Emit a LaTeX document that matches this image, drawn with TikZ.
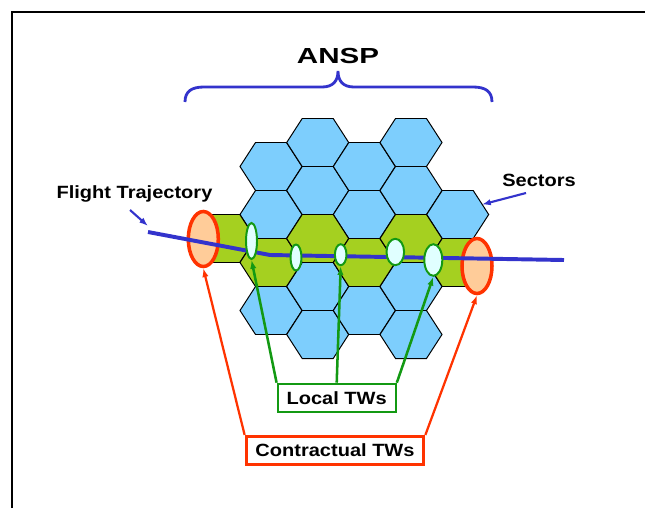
\documentclass[tikz,border=0pt]{standalone}
\usepackage{fontspec}
\setmainfont{Liberation Sans}
\usetikzlibrary{arrows.meta,positioning,shapes.geometric}
\definecolor{cellblue}{HTML}{7DCEFD}
\definecolor{cellgreen}{HTML}{A5D020}
\definecolor{trackblue}{HTML}{3333CC}
\definecolor{twgreen}{HTML}{139913}
\definecolor{twfill}{HTML}{E0FFFF}
\definecolor{capred}{HTML}{FF3300}
\definecolor{capfill}{HTML}{FFCC99}
% one sector cell: centre x, centre y, fill
\newcommand{\hexcell}[3]{\draw[black,line width=.7pt,fill=#3,shift={(#1,#2)}] (-31,0) -- (-15.5,-24) -- (15.5,-24) -- (31,0) -- (15.5,24) -- (-15.5,24) -- cycle;}

\begin{document}
\begin{tikzpicture}[x=0.025cm,y=-0.025cm,>={Latex[length=2.2mm,width=1.6mm]},
  lbl/.style={font=\bfseries\fontsize{12.6}{14}\selectfont,xscale=1.13,inner sep=0pt},
  twmark/.style={ellipse,draw=twgreen,line width=1.4pt,fill=twfill,inner sep=0pt},
  capmark/.style={ellipse,draw=capred,line width=2.5pt,fill=capfill,inner sep=0pt,minimum width=7.5mm,minimum height=13.75mm},
  twlink/.style={->,twgreen,line width=1.8pt},
  caplink/.style={->,capred,line width=1.6pt}]
\useasboundingbox (0,0) rectangle (645,508);
\draw[line width=1.4pt] (12,508) -- (12,12) -- (645,12);

% ANSP brace
\node[lbl,font=\bfseries\fontsize{15.5}{17}\selectfont,xscale=1.2,anchor=base] (ansp) at (338,63) {ANSP};
\draw[trackblue,line width=2pt] (185,102) .. controls (185,91) and (192,87) .. (204,87) -- (322,87) .. controls (333,87) and (338,81) .. (338,71) .. controls (338,81) and (343,87) .. (354,87) -- (473,87) .. controls (485,87) and (492,91) .. (492,102);

% sectors
\hexcell{271}{166.5}{cellblue}
\hexcell{271}{214.5}{cellblue}
\hexcell{271}{310.5}{cellblue}
\hexcell{317.7}{142.5}{cellblue}
\hexcell{317.7}{190.5}{cellblue}
\hexcell{317.7}{286.5}{cellblue}
\hexcell{317.7}{334.5}{cellblue}
\hexcell{364.3}{166.5}{cellblue}
\hexcell{364.3}{214.5}{cellblue}
\hexcell{364.3}{310.5}{cellblue}
\hexcell{411}{142.5}{cellblue}
\hexcell{411}{190.5}{cellblue}
\hexcell{411}{286.5}{cellblue}
\hexcell{411}{334.5}{cellblue}
\hexcell{457.7}{214.5}{cellblue}
% corridor
\hexcell{224.3}{238.5}{cellgreen}
\hexcell{271}{262.5}{cellgreen}
\hexcell{317.7}{238.5}{cellgreen}
\hexcell{364.3}{262.5}{cellgreen}
\hexcell{411}{238.5}{cellgreen}
\hexcell{457.7}{262.5}{cellgreen}

\node[capmark] (lcap) at (203.3,239) {};
\node[capmark] (rcap) at (477,266) {};

% trajectory
\coordinate (fstart) at (148,232);
\coordinate (fbend) at (270,255);
\coordinate (fend) at (564,260);
\draw[trackblue,line width=2.8pt] (fstart) -- (fbend) -- (fend);

\node[twmark,minimum width=2.75mm,minimum height=9mm] (tw1) at (251.5,241) {};
\node[twmark,minimum width=2.75mm,minimum height=6.5mm] (tw2) at (296,257.5) {};
\node[twmark,minimum width=2.9mm,minimum height=5.25mm] (tw3) at (340.7,254.7) {};
\node[twmark,minimum width=4.4mm,minimum height=6.6mm] (tw4) at (395.3,252) {};
\node[twmark,minimum width=4.5mm,minimum height=7.9mm] (tw5) at (433.3,260) {};

% labels
\node[lbl,anchor=base] (flight) at (134.5,198) {Flight Trajectory};
\coordinate (ftail) at (130,210);
\coordinate (ftip) at (148,226);
\draw[->,trackblue,line width=1.5pt] (ftail) -- (ftip);
\node[lbl,anchor=base] (sectors) at (539,186) {Sectors};
\coordinate (stail) at (526,193);
\coordinate (stip) at (482,204.5);
\draw[->,trackblue,line width=1.5pt] (stail) -- (stip);

\node[lbl,draw=twgreen,line width=1.4pt,fill=white,minimum width=26.1mm,minimum height=7mm] (local) at (336.7,397.7) {Local TWs};
\node[lbl,draw=capred,line width=2.2pt,fill=white,minimum width=39.2mm,minimum height=7mm] (contract) at (335,450.5) {Contractual TWs};

\draw[twlink] (local.north west) -- (tw1.south);
\draw[twlink] (local.north) -- (tw3.south);
\draw[twlink] (local.north east) -- (tw5.south);
\draw[caplink] (contract.north west) -- (lcap.south);
\draw[caplink] (contract.north east) -- (rcap.south);
\end{tikzpicture}
\end{document}
